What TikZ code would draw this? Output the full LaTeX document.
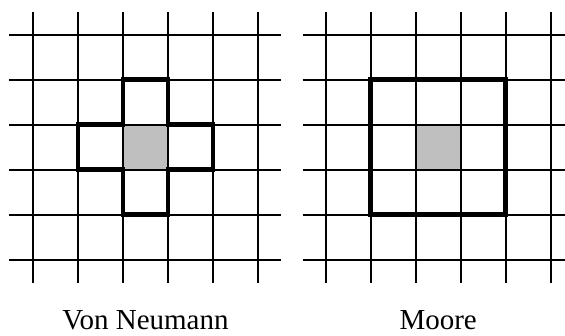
\documentclass[tikz,border=0pt]{standalone}
\usepackage{fontspec}
\setmainfont{Liberation Serif}
\begin{document}
\begin{tikzpicture}[x=1pt,y=-1pt,
  gridline/.style={line width=1.8pt,black},
  outline/.style={line width=4.6pt,black,line join=miter},
  centre/.style={fill=black!25},
  caption/.style={font=\fontsize{29}{33}\selectfont,anchor=base,inner sep=0pt}]
\useasboundingbox (0,0) rectangle (565,335);
\def\cs{45}
% ---- left lattice: von Neumann neighbourhood ----
\begin{scope}[shift={(33,34.6)}]
  \fill[centre] (2*\cs,2*\cs) rectangle (3*\cs,3*\cs);
  \foreach \i in {0,...,5} {
    \draw[gridline] (\i*\cs,-22.6) -- (\i*\cs,248.4);
    \draw[gridline] (-24,\i*\cs) -- (248,\i*\cs);
  }
  \draw[outline] (2*\cs,1*\cs) -- (3*\cs,1*\cs) -- (3*\cs,2*\cs) -- (4*\cs,2*\cs)
    -- (4*\cs,3*\cs) -- (3*\cs,3*\cs) -- (3*\cs,4*\cs) -- (2*\cs,4*\cs)
    -- (2*\cs,3*\cs) -- (1*\cs,3*\cs) -- (1*\cs,2*\cs) -- (2*\cs,2*\cs) -- cycle;
  \node[caption] (vn) at (2.5*\cs,294.6) {Von Neumann};
\end{scope}
% ---- right lattice: Moore neighbourhood ----
\begin{scope}[shift={(325.7,34.6)}]
  \fill[centre] (2*\cs,2*\cs) rectangle (3*\cs,3*\cs);
  \foreach \i in {0,...,5} {
    \draw[gridline] (\i*\cs,-22.6) -- (\i*\cs,248.4);
    \draw[gridline] (-23,\i*\cs) -- (248,\i*\cs);
  }
  \draw[outline] (1*\cs,1*\cs) rectangle (4*\cs,4*\cs);
  \node[caption] (mo) at (2.5*\cs,294.6) {Moore};
\end{scope}
\end{tikzpicture}
\end{document}
